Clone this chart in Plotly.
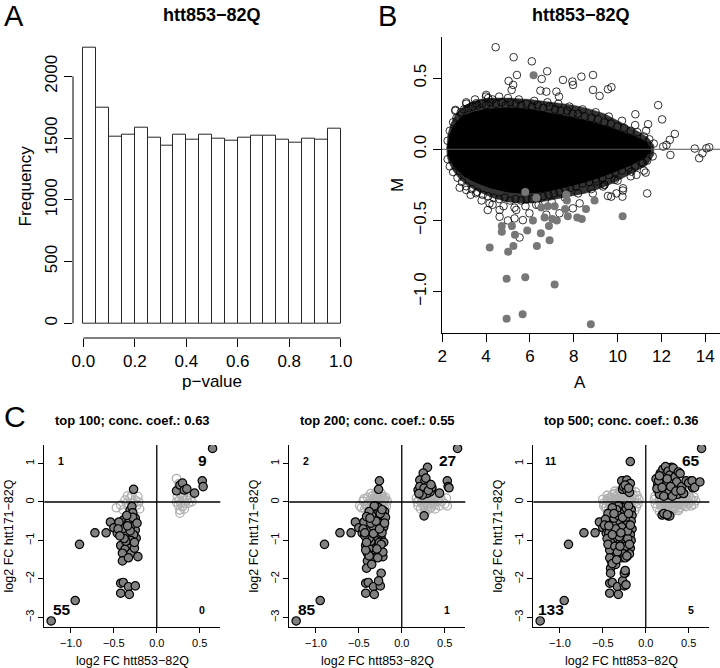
import plotly.graph_objects as go

W, H = 720, 668
FONT = "Liberation Sans"

# ---------------- Panel A: p-value histogram ----------------
pval_bin_mid = [0.025, 0.075, 0.125, 0.175, 0.225, 0.275, 0.325, 0.375, 0.425, 0.475,
                0.525, 0.575, 0.625, 0.675, 0.725, 0.775, 0.825, 0.875, 0.925, 0.975]
pval_freq = [2232, 1749, 1508, 1530, 1584, 1500, 1436, 1530, 1484, 1530,
             1498, 1476, 1506, 1516, 1516, 1484, 1460, 1498, 1484, 1573]
a_xticks = [0.0, 0.2, 0.4, 0.6, 0.8, 1.0]
a_yticks = [0, 500, 1000, 1500, 2000]

# ---------------- Panel B: MA plot ----------------
# outer edge of the textured band of the point cloud
ma_band_upper = [(2.20, 0.00), (2.26, 0.10), (2.40, 0.18), (2.60, 0.24), (2.90, 0.29), (3.30, 0.33),
                 (3.70, 0.35), (4.30, 0.36), (5.00, 0.36), (6.00, 0.35), (7.00, 0.33), (8.00, 0.31),
                 (8.80, 0.28), (9.40, 0.25), (9.90, 0.21), (10.50, 0.16), (11.00, 0.12), (11.40, 0.08),
                 (11.65, 0.03)]
ma_band_lower = [(11.65, -0.04), (11.40, -0.10), (11.00, -0.14), (10.50, -0.18), (9.90, -0.23),
                 (9.30, -0.27), (8.50, -0.31), (7.50, -0.34), (6.50, -0.37), (5.80, -0.38), (5.00, -0.37),
                 (4.30, -0.34), (3.70, -0.30), (3.20, -0.26), (2.80, -0.21), (2.50, -0.15), (2.30, -0.09),
                 (2.21, -0.04)]
# solid black core of the cloud
ma_core_upper = [(2.25, 0.00), (2.35, 0.10), (2.55, 0.17), (2.90, 0.23), (3.40, 0.26), (4.00, 0.28),
                 (5.00, 0.29), (6.00, 0.28), (7.00, 0.25), (8.00, 0.22), (8.80, 0.19), (9.50, 0.16),
                 (10.20, 0.12), (10.80, 0.09), (11.30, 0.05), (11.50, 0.01)]
ma_core_lower = [(11.50, -0.02), (11.20, -0.06), (10.60, -0.11), (10.00, -0.15), (9.30, -0.19),
                 (8.50, -0.23), (7.50, -0.27), (6.50, -0.30), (5.80, -0.31), (5.00, -0.30), (4.20, -0.27),
                 (3.50, -0.23), (3.00, -0.19), (2.60, -0.13), (2.35, -0.07), (2.27, -0.03)]
# open circles on the edge of the cloud
ma_fringe = [(2.25, 0.06), (2.35, 0.13), (2.5, 0.19), (2.65, 0.22), (2.85, 0.26), (3.0, 0.28), (3.2, 0.29),
             (3.4, 0.30), (3.6, 0.31), (3.8, 0.32), (4.0, 0.31), (4.2, 0.33), (4.45, 0.32), (4.7, 0.33),
             (4.9, 0.31), (5.1, 0.33), (5.35, 0.32), (5.6, 0.31), (5.85, 0.32), (6.1, 0.30), (6.35, 0.31),
             (6.6, 0.29), (6.9, 0.30), (7.15, 0.28), (7.4, 0.27), (7.7, 0.27), (7.95, 0.25), (8.2, 0.25),
             (8.5, 0.23), (8.8, 0.22), (9.1, 0.21), (9.4, 0.19), (9.7, 0.18), (10.0, 0.16), (10.3, 0.15),
             (10.6, 0.13), (10.9, 0.12), (11.2, 0.09), (11.45, 0.07), (11.65, 0.04),
             (2.6, 0.27), (3.1, 0.33), (3.5, 0.35), (4.1, 0.36), (4.6, 0.37), (5.0, 0.36), (5.5, 0.35),
             (6.2, 0.34), (6.8, 0.33), (7.3, 0.32), (7.8, 0.30), (8.4, 0.28), (9.0, 0.26), (9.6, 0.23),
             (10.2, 0.20), (10.8, 0.17), (11.3, 0.13),
             (2.25, -0.07), (2.35, -0.12), (2.5, -0.16), (2.7, -0.20), (2.9, -0.23), (3.1, -0.26),
             (3.35, -0.28), (3.6, -0.30), (3.85, -0.32), (4.1, -0.33), (4.35, -0.34), (4.6, -0.35),
             (4.85, -0.34), (5.1, -0.36), (5.35, -0.35), (5.6, -0.36), (5.85, -0.35), (6.1, -0.35),
             (6.35, -0.34), (6.6, -0.33), (6.85, -0.32), (7.1, -0.31), (7.35, -0.30), (7.6, -0.28),
             (7.85, -0.27), (8.1, -0.26), (8.4, -0.24), (8.7, -0.23), (9.0, -0.21), (9.3, -0.20),
             (9.6, -0.18), (9.9, -0.16), (10.2, -0.15), (10.5, -0.13), (10.8, -0.12), (11.1, -0.09),
             (11.35, -0.08), (11.6, -0.05),
             (2.8, -0.27), (3.3, -0.32), (3.8, -0.36), (4.3, -0.39), (4.8, -0.40), (5.3, -0.41),
             (5.8, -0.40), (6.4, -0.39), (7.0, -0.37), (7.6, -0.34), (8.2, -0.31), (8.8, -0.28),
             (9.4, -0.25), (10.0, -0.22), (10.6, -0.19), (11.2, -0.15)]
# scattered open circles outside the cloud
ma_outliers = [(4.44, 0.717), (5.26, 0.647), (6.09, 0.618), (5.41, 0.522), (6.79, 0.548), (5.03, 0.48),
               (5.24, 0.452), (5.17, 0.417), (6.54, 0.494), (7.51, 0.487), (7.94, 0.476), (7.97, 0.452),
               (8.35, 0.51), (8.88, 0.522), (8.88, 0.417), (9.18, 0.375), (9.56, 0.422), (9.72, 0.436),
               (6.48, 0.412), (6.75, 0.405), (7.21, 0.405), (7.33, 0.37), (4.01, 0.382), (3.55, 0.323),
               (11.85, 0.31), (12.03, 0.21), (10.81, 0.246), (11.39, 0.176), (12.61, 0.108), (12.38, 0.066),
               (12.23, 0.03), (12.08, 0.019), (12.41, -0.04), (13.52, 0.005), (13.72, -0.063), (13.87, -0.028),
               (14.05, 0.007), (14.18, 0.014), (11.35, -0.31), (11.28, -0.164), (10.86, -0.18), (10.63, -0.157),
               (10.25, -0.274), (9.95, -0.31), (9.56, -0.328), (10.22, -0.333), (9.34, -0.262), (10.55, -0.075),
               (11.16, -0.098), (3.10, -0.286), (3.55, -0.309), (4.16, -0.38), (4.62, -0.426), (5.38, -0.426),
               (9.03, -0.227), (9.87, -0.215), (4.08, -0.427), (4.62, -0.474), (5.0, -0.50), (5.30, -0.486),
               (5.68, -0.498), (5.53, -0.62), (5.98, -0.45), (6.29, -0.39), (6.75, -0.46), (7.35, -0.45),
               (7.96, -0.415), (8.27, -0.38), (8.87, -0.31), (9.4, -0.25), (9.71, -0.333), (10.24, -0.29),
               (2.61, 0.277), (3.1, 0.32), (4.0, 0.37), (4.3, 0.35)]
# significant genes (filled grey)
ma_sig = [(6.17, 0.52), (5.79, -0.30), (6.30, -0.34), (6.52, -0.41), (6.82, -0.40), (7.13, -0.40),
          (7.66, -0.32), (7.69, -0.36), (7.61, -0.42), (7.73, -0.47), (6.67, -0.48), (6.14, -0.50),
          (6.87, -0.54), (7.02, -0.49), (7.23, -0.50), (8.16, -0.48), (8.37, -0.49), (8.56, -0.42),
          (8.95, -0.36), (10.23, -0.47), (4.72, -0.54), (4.72, -0.58), (5.18, -0.54), (5.32, -0.60),
          (5.88, -0.57), (6.50, -0.59), (5.25, -0.68), (6.32, -0.68), (6.90, -0.64), (4.17, -0.69),
          (5.01, -0.72), (4.94, -0.91), (5.79, -0.90), (7.13, -0.95), (4.94, -1.19), (5.67, -1.16),
          (8.78, -1.23)]
b_xticks = [2, 4, 6, 8, 10, 12, 14]
b_yticks = [-1.0, -0.5, 0.0, 0.5]

# ---------------- Panel C: concordance plots ----------------
c_top = [100, 200, 500]
c_conc = [0.63, 0.55, 0.36]
c_count_ul = [1, 2, 11]
c_count_ur = [9, 27, 65]
c_count_ll = [55, 85, 133]
c_count_lr = [0, 1, 5]

# dark points = significant in both; tier = first top-N list that contains the gene
dark_top100 = [(-1.23, -3.09), (-0.95, -2.56), (-0.90, -1.10), (-0.72, -0.80), (-0.59, -0.80), (-0.54, -0.52),
               (-0.50, -0.67), (-0.46, -0.81), (-0.42, -0.60), (-0.39, -0.47), (-0.37, -0.68), (-0.34, -0.58),
               (-0.31, -0.21), (-0.29, -0.32), (-0.25, -0.42), (-0.26, -0.60), (-0.25, -0.73), (-0.24, -0.94),
               (-0.28, -1.10), (-0.33, -0.90), (-0.34, -1.12), (-0.42, -1.13), (-0.37, -1.23), (-0.40, -1.33),
               (-0.30, -1.33), (-0.22, -1.42), (-0.40, -1.53), (-0.29, -0.12), (-0.42, -2.11), (-0.39, -2.09),
               (-0.33, -2.20), (-0.25, -2.18), (-0.42, -2.37), (-0.32, -2.40), (-0.28, -0.28), (-0.27, -0.50),
               (-0.36, -0.80), (-0.30, -0.62), (-0.32, -0.45), (-0.40, -0.70), (-0.44, -0.52), (-0.27, -0.85),
               (-0.30, -1.00), (-0.36, -1.02), (-0.26, -1.20), (-0.33, -1.45), (-0.38, -0.95), (-0.45, -0.70),
               (-0.28, -0.40), (-0.35, -0.35), (-0.23, -0.55), (-0.31, -0.75), (-0.26, -1.05), (-0.43, -0.88),
               (-0.34, -0.62),
               (-0.27, 0.33),
               (0.23, 0.29), (0.27, 0.44), (0.30, 0.49), (0.32, 0.31), (0.35, 0.34), (0.44, 0.23), (0.53, 0.55),
               (0.54, 0.40), (0.65, 1.39)]
dark_top200 = [(-0.26, 0.55),
               (0.30, 0.90), (0.25, 0.75), (0.21, 0.57), (0.27, 0.55), (0.31, 0.44), (0.19, 0.31), (0.23, 0.26),
               (0.33, 0.26), (0.21, 0.40), (0.35, 0.38), (0.26, 0.36), (0.29, 0.22), (0.24, 0.18), (0.31, 0.30),
               (0.28, 0.62), (0.20, 0.22), (0.34, 0.45), (0.55, 0.37),
               (0.26, -0.36),
               (-0.24, -1.85), (-0.20, -0.25), (-0.22, -0.35), (-0.19, -0.40), (-0.21, -0.65), (-0.23, -0.80),
               (-0.21, -1.05), (-0.22, -1.30), (-0.24, -1.10), (-0.27, -0.15), (-0.32, -0.10), (-0.25, -0.30),
               (-0.38, -0.25), (-0.41, -0.38), (-0.36, -0.55), (-0.33, -0.82), (-0.29, -1.22), (-0.38, -1.40),
               (-0.41, -1.72), (-0.42, -1.25), (-0.35, -1.62), (-0.27, -2.05), (-0.41, -1.05), (-0.30, -0.50),
               (-0.26, -0.70), (-0.37, -0.42), (-0.43, -0.80), (-0.20, -0.55), (-0.23, -0.20), (-0.28, -1.45)]
dark_top500 = [(-0.18, 1.05), (-0.28, 0.55), (-0.22, 0.57), (-0.18, 0.48), (-0.26, 0.40), (-0.22, 0.31),
               (-0.19, 0.25), (-0.24, 0.44), (-0.20, 0.36),
               (0.12, 0.60), (0.14, 0.45), (0.15, 0.30), (0.16, 0.20), (0.13, 0.35), (0.17, 0.75), (0.18, 0.52),
               (0.20, 0.85), (0.22, 0.68), (0.23, 0.92), (0.24, 0.45), (0.26, 0.80), (0.27, 0.25), (0.28, 0.70),
               (0.30, 0.58), (0.32, 0.88), (0.33, 0.35), (0.34, 0.65), (0.36, 0.52), (0.37, 0.20), (0.38, 0.78),
               (0.40, 0.74), (0.42, 0.40), (0.44, 0.22), (0.47, 0.55), (0.50, 0.50), (0.54, 0.55), (0.57, 0.38),
               (0.63, 0.52), (0.15, 0.55), (0.19, 0.38), (0.21, 0.15), (0.25, 0.60), (0.29, 0.40), (0.31, 0.15),
               (0.35, 0.28), (0.16, 0.68), (0.41, 0.30),
               (0.19, -0.34), (0.28, -0.36), (0.21, -0.30), (0.25, -0.33),
               (-0.17, -0.20), (-0.16, -0.35), (-0.17, -0.50), (-0.16, -0.70), (-0.18, -0.85), (-0.17, -1.00),
               (-0.18, -1.20), (-0.19, -1.35), (-0.20, -0.10), (-0.24, -0.45), (-0.22, -0.60), (-0.25, -0.85),
               (-0.21, -0.95), (-0.23, -1.15), (-0.26, -1.35), (-0.24, -1.45), (-0.30, -0.30), (-0.34, -0.20),
               (-0.39, -0.15), (-0.44, -0.30), (-0.47, -0.45), (-0.48, -0.60), (-0.45, -0.95), (-0.44, -1.10),
               (-0.42, -1.45), (-0.39, -1.60), (-0.41, -1.85), (-0.36, -1.15), (-0.33, -1.30), (-0.30, -1.15),
               (-0.31, -0.90), (-0.28, -0.65), (-0.35, -0.70), (-0.39, -0.85), (-0.32, -0.35), (-0.27, -0.40),
               (-0.21, -0.75), (-0.19, -1.10), (-0.25, -1.85), (-0.24, -1.78), (-0.43, -0.62), (-0.37, -0.30),
               (-0.22, -1.40), (-0.18, -0.60), (-0.29, -0.80), (-0.34, -1.50), (-0.20, -0.30), (-0.23, -2.15)]
# light open circles = not significant in htt171-82Q
light_top100 = [(-0.47, -0.15), (-0.42, -0.08), (-0.37, 0.05), (-0.34, 0.16), (-0.31, 0.10), (-0.25, 0.05),
                (-0.22, 0.14), (-0.27, -0.03), (-0.33, -0.12), (-0.23, -0.08), (-0.39, -0.21), (-0.29, 0.18),
                (-0.21, 0.00), (-0.35, -0.03), (-0.20, -0.18),
                (0.23, 0.61), (0.26, 0.48), (0.24, 0.14), (0.26, 0.05), (0.28, -0.03), (0.30, -0.12),
                (0.27, -0.21), (0.32, -0.18), (0.35, 0.05), (0.39, 0.10), (0.41, 0.01), (0.37, -0.03),
                (0.25, -0.08), (0.31, 0.14), (0.33, -0.03), (0.23, 0.00), (0.28, 0.22), (0.38, 0.18),
                (0.27, -0.29), (0.35, 0.10)]
light_top200 = [(-0.49, -0.10), (-0.45, 0.02), (-0.40, 0.12), (-0.36, 0.22), (-0.30, 0.25), (-0.24, 0.22),
                (-0.19, 0.12), (-0.17, 0.02), (-0.18, -0.12), (-0.21, -0.22), (-0.26, -0.15), (-0.30, 0.02),
                (-0.33, 0.08), (-0.28, 0.10), (-0.38, -0.05), (-0.43, -0.18), (-0.44, 0.08), (-0.36, -0.15),
                (-0.24, -0.05), (-0.20, 0.05), (-0.27, 0.15), (-0.32, -0.20), (-0.41, -0.10), (-0.29, -0.08),
                (-0.22, 0.08),
                (0.17, 0.10), (0.18, 0.00), (0.19, -0.10), (0.21, 0.18), (0.22, -0.18), (0.24, 0.08),
                (0.26, -0.12), (0.29, 0.06), (0.30, -0.05), (0.33, 0.12), (0.34, -0.15), (0.36, 0.00),
                (0.38, -0.08), (0.40, 0.15), (0.42, 0.05), (0.44, -0.10), (0.47, 0.02), (0.50, -0.05),
                (0.52, 0.10), (0.53, -0.10), (0.31, 0.20), (0.20, 0.05), (0.27, 0.16), (0.39, -0.18),
                (0.45, 0.12)]
light_top500 = [(-0.36, 0.28), (-0.30, 0.30), (-0.24, 0.27), (-0.17, 0.29), (-0.12, 0.26),
                (-0.45, 0.17), (-0.39, 0.19), (-0.33, 0.18), (-0.27, 0.20), (-0.21, 0.17), (-0.15, 0.19),
                (-0.10, 0.16),
                (-0.50, 0.07), (-0.44, 0.09), (-0.38, 0.08), (-0.31, 0.10), (-0.25, 0.07), (-0.19, 0.09),
                (-0.13, 0.08), (-0.08, 0.06),
                (-0.49, -0.03), (-0.43, -0.01), (-0.37, -0.02), (-0.31, -0.03), (-0.25, -0.01), (-0.19, -0.02),
                (-0.13, -0.01), (-0.09, -0.04),
                (-0.46, -0.13), (-0.40, -0.11), (-0.34, -0.12), (-0.28, -0.13), (-0.22, -0.11), (-0.16, -0.12),
                (-0.11, -0.13),
                (-0.40, -0.23), (-0.33, -0.22), (-0.26, -0.24), (-0.19, -0.21), (-0.13, -0.23),
                (0.14, 0.26), (0.21, 0.28), (0.28, 0.25), (0.36, 0.27), (0.46, 0.26),
                (0.11, 0.16), (0.17, 0.18), (0.23, 0.15), (0.30, 0.17), (0.37, 0.14), (0.43, 0.17), (0.50, 0.15),
                (0.56, 0.13),
                (0.10, 0.06), (0.16, 0.07), (0.22, 0.05), (0.28, 0.08), (0.35, 0.06), (0.41, 0.04), (0.48, 0.07),
                (0.54, 0.05), (0.58, 0.03),
                (0.11, -0.04), (0.17, -0.05), (0.23, -0.03), (0.29, -0.06), (0.36, -0.04), (0.43, -0.05),
                (0.50, -0.02), (0.56, -0.06),
                (0.13, -0.14), (0.19, -0.15), (0.26, -0.13), (0.33, -0.16), (0.40, -0.14), (0.47, -0.12),
                (0.16, -0.25), (0.24, -0.23), (0.31, -0.24), (0.38, -0.22)]
c_xticks = [-1.0, -0.5, 0.0, 0.5]
c_yticks = [-3, -2, -1, 0, 1]


# ---------------- helpers (layout only) ----------------
def fx(px):
    return px / W


def fy(py):
    return 1 - py / H


def fmt(v, nd=1):
    s = f"{abs(v):.{nd}f}"
    return ("\u2212" + s) if v < 0 else s


def xs(pts):
    return [p[0] for p in pts]


def ys(pts):
    return [p[1] for p in pts]


fig = go.Figure()

# Panel A
fig.add_trace(go.Bar(x=pval_bin_mid, y=pval_freq, width=0.05,
                     marker=dict(color="white", line=dict(color="#262626", width=1)),
                     xaxis="x", yaxis="y", showlegend=False))

# Panel B
band = ma_band_upper + ma_band_lower
fig.add_trace(go.Scatter(x=xs(band), y=ys(band), mode="lines", fill="toself", fillcolor="#333333",
                         line=dict(color="#333333", width=0.5), xaxis="x2", yaxis="y2",
                         showlegend=False, hoverinfo="skip"))
core = ma_core_upper + ma_core_lower
fig.add_trace(go.Scatter(x=xs(core), y=ys(core), mode="lines", fill="toself", fillcolor="black",
                         line=dict(color="black", width=1), xaxis="x2", yaxis="y2",
                         showlegend=False, hoverinfo="skip"))
opens = ma_fringe + ma_outliers
fig.add_trace(go.Scatter(x=xs(opens), y=ys(opens), mode="markers",
                         marker=dict(symbol="circle-open", size=7.6, color="black", line=dict(width=0.8)),
                         xaxis="x2", yaxis="y2", showlegend=False))
fig.add_trace(go.Scatter(x=xs(ma_sig), y=ys(ma_sig), mode="markers",
                         marker=dict(symbol="circle", size=8, color="#777777", line=dict(width=0)),
                         xaxis="x2", yaxis="y2", showlegend=False))

# Panel C
dark_tiers = [dark_top100, dark_top200, dark_top500]
light_tiers = [light_top100, light_top200, light_top500]
c_left_px = [44.3, 289.3, 533.3]
C_W = 176.0
C_RANGE_X = [-1.31, 0.74]
C_RANGE_Y = [-3.255, 1.48]
C_TOP_PX, C_BOT_PX = 445.0, 627.3

for k in range(3):
    ax = str(k + 3)
    light = [p for t in light_tiers[:k + 1] for p in t]
    dark = [p for t in dark_tiers[:k + 1] for p in t]
    fig.add_trace(go.Scatter(x=xs(light), y=ys(light), mode="markers",
                             marker=dict(symbol="circle-open", size=8.4, color="#b0b0b0", line=dict(width=1.3)),
                             xaxis="x" + ax, yaxis="y" + ax, showlegend=False))
    fig.add_trace(go.Scatter(x=xs(dark), y=ys(dark), mode="markers",
                             marker=dict(symbol="circle", size=8.4, color="#808080",
                                         line=dict(color="black", width=1.2)),
                             xaxis="x" + ax, yaxis="y" + ax, showlegend=False))

tickfont_big = dict(family=FONT, size=17, color="black")
tickfont_small = dict(family=FONT, size=11, color="black")

layout = dict(
    width=W, height=H, margin=dict(l=0, r=0, t=0, b=0), autosize=False,
    paper_bgcolor="white", plot_bgcolor="white", template=None, bargap=0,
    font=dict(family=FONT, color="black"),
    xaxis=dict(domain=[fx(73), fx(351)], range=[-0.04, 1.04], anchor="y",
               showline=False, showgrid=False, zeroline=False, ticks="outside", ticklen=8,
               tickwidth=1, tickcolor="black", tickmode="array", tickvals=a_xticks,
               ticktext=[fmt(v) for v in a_xticks], tickfont=tickfont_big, automargin=False),
    yaxis=dict(domain=[fy(338), fy(36.7)], range=[-119, 2321], anchor="x",
               showline=False, showgrid=False, zeroline=False, ticks="outside", ticklen=8,
               tickwidth=1, tickcolor="black", tickmode="array", tickvals=a_yticks,
               ticktext=[str(v) for v in a_yticks], tickangle=-90, tickfont=tickfont_big,
               automargin=False),
    xaxis2=dict(domain=[fx(441.7), 1.0], range=[1.98, 14.67], anchor="y2",
                showline=True, linecolor="black", linewidth=1, mirror=False,
                showgrid=False, zeroline=False, ticks="outside", ticklen=8,
                tickwidth=1, tickcolor="black", tickmode="array", tickvals=b_xticks,
                ticktext=[str(v) for v in b_xticks], tickfont=tickfont_big, automargin=False),
    yaxis2=dict(domain=[fy(333), fy(36.7)], range=[-1.291, 0.791], anchor="x2",
                showline=True, linecolor="black", linewidth=1, mirror=False,
                showgrid=False, zeroline=False, ticks="outside", ticklen=8,
                tickwidth=1, tickcolor="black", tickmode="array", tickvals=b_yticks,
                ticktext=[fmt(v) for v in b_yticks], tickangle=-90, tickfont=tickfont_big,
                automargin=False),
)
for k in range(3):
    ax = str(k + 3)
    left = c_left_px[k]
    layout["xaxis" + ax] = dict(domain=[fx(left), fx(left + C_W)], range=C_RANGE_X, anchor="y" + ax,
                                showline=True, linecolor="black", linewidth=1, mirror=False,
                                showgrid=False, zeroline=False, ticks="outside", ticklen=5,
                                tickwidth=1, tickcolor="black", tickmode="array", tickvals=c_xticks,
                                ticktext=[fmt(v) for v in c_xticks], tickfont=tickfont_small,
                                automargin=False)
    layout["yaxis" + ax] = dict(domain=[fy(C_BOT_PX), fy(C_TOP_PX)], range=C_RANGE_Y, anchor="x" + ax,
                                showline=True, linecolor="black", linewidth=1, mirror=False,
                                showgrid=False, zeroline=False, ticks="outside", ticklen=5,
                                tickwidth=1, tickcolor="black", tickmode="array", tickvals=c_yticks,
                                ticktext=[fmt(v, 0) for v in c_yticks], tickangle=-90,
                                tickfont=tickfont_small, automargin=False)
fig.update_layout(**layout)

# ---------- shapes ----------
shapes = [
    # R-style detached axes of panel A
    dict(type="line", xref="x", yref="y domain", x0=min(a_xticks), x1=max(a_xticks), y0=0, y1=0,
         line=dict(color="black", width=1)),
    dict(type="line", xref="x domain", yref="y", x0=0, x1=0, y0=min(a_yticks), y1=max(a_yticks),
         line=dict(color="black", width=1)),
    # zero line in MA plot
    dict(type="line", xref="x2 domain", yref="y2", x0=0, x1=1, y0=0, y1=0,
         line=dict(color="#555555", width=1)),
]
for k in range(3):
    ax = str(k + 3)
    shapes.append(dict(type="line", xref="x" + ax + " domain", yref="y" + ax, x0=0, x1=1, y0=0, y1=0,
                       line=dict(color="black", width=1.3)))
    shapes.append(dict(type="line", xref="x" + ax, yref="y" + ax + " domain", x0=0, x1=0, y0=0, y1=1,
                       line=dict(color="black", width=1.3)))
fig.update_layout(shapes=shapes)

# ---------- annotations ----------
ann = []


def text(x, y, s, size, bold=False, angle=0, xanchor="center", yanchor="middle", xref="paper", yref="paper"):
    ann.append(dict(x=x, y=y, xref=xref, yref=yref, text=("<b>%s</b>" % s) if bold else s,
                    showarrow=False, textangle=angle, xanchor=xanchor, yanchor=yanchor,
                    font=dict(family=FONT, size=size, color="black")))


# panel letters
text(fx(2), fy(16), "A", 29, xanchor="left")
text(fx(376), fy(16), "B", 29, xanchor="left")
text(fx(2), fy(416), "C", 30, xanchor="left")
# panel titles
text(fx(212), fy(15), "htt853\u221282Q", 18, bold=True)
text(fx(581), fy(15), "htt853\u221282Q", 18, bold=True)
# axis titles A / B
text(fx(212), fy(381), "p\u2212value", 17)
text(fx(25.5), fy(186), "Frequency", 17, angle=-90)
text(fx(580), fy(382), "A", 17)
text(fx(398), fy(185), "M", 17, angle=-90)

for k in range(3):
    left = c_left_px[k]
    cx = left + C_W / 2
    ax = str(k + 3)
    text(fx(cx), fy(420), "top %d; conc. coef.: %.2f" % (c_top[k], c_conc[k]), 13, bold=True)
    text(fx(cx), fy(661), "log2 FC htt853\u221282Q", 12.5)
    text(fx(left - 35), fy((C_TOP_PX + C_BOT_PX) / 2), "log2 FC htt171\u221282Q", 12.5, angle=-90)
    # quadrant counts
    text(-1.11, 1.07, str(c_count_ul[k]), 10.5, bold=True, xref="x" + ax, yref="y" + ax)
    text(0.53, 1.07, str(c_count_ur[k]), 15.5, bold=True, xref="x" + ax, yref="y" + ax)
    text(-1.10, -2.80, str(c_count_ll[k]), 15.5, bold=True, xref="x" + ax, yref="y" + ax)
    text(0.53, -2.80, str(c_count_lr[k]), 10.5, bold=True, xref="x" + ax, yref="y" + ax)

fig.update_layout(annotations=ann)
fig.write_html("out.html", config={"displayModeBar": False},
               post_script="document.body.style.margin='0px';")
